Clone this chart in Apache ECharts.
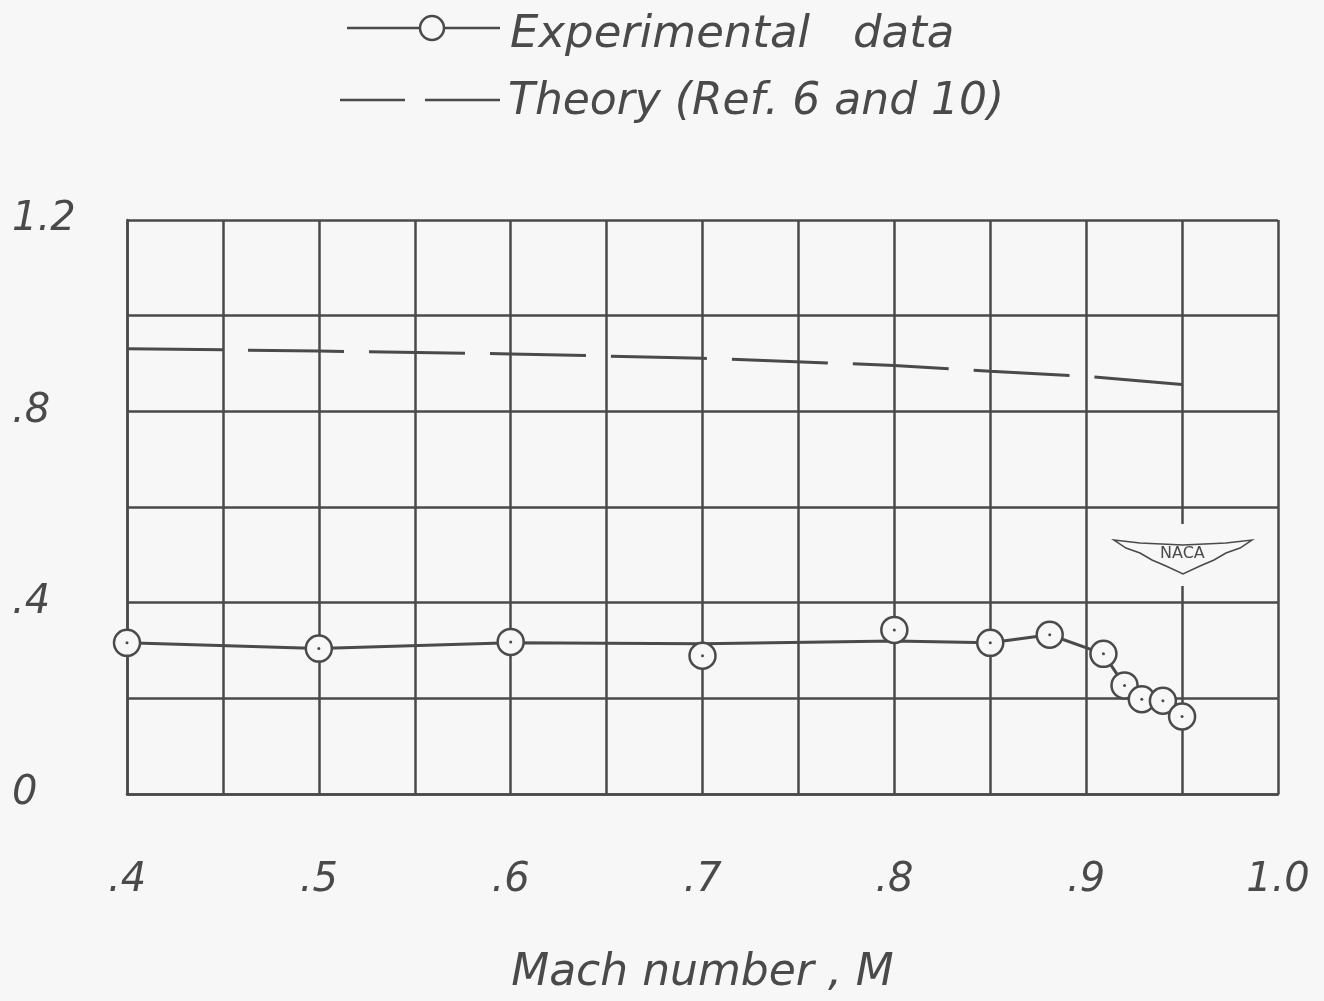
<!DOCTYPE html>
<html><head><meta charset="utf-8">
<script src="https://cdn.jsdelivr.net/npm/echarts@6/dist/echarts.min.js"></script>
<style>html,body{margin:0;padding:0;background:#f7f7f7}#c{width:1324px;height:1001px}</style>
</head><body><div id="c"></div>
<script>
// Experimental points (Mach number, value)
const machExp = [0.4, 0.5, 0.6, 0.7, 0.8, 0.85, 0.881, 0.909, 0.92, 0.929, 0.94, 0.95];
const valExp  = [0.316, 0.304, 0.318, 0.289, 0.343, 0.316, 0.333, 0.293, 0.227, 0.198, 0.195, 0.162];
// Faired curve through experimental data
const machFair = [0.4, 0.5, 0.6, 0.7, 0.8, 0.85, 0.881, 0.909, 0.92, 0.929, 0.94, 0.95];
const valFair  = [0.316, 0.304, 0.316, 0.314, 0.320, 0.316, 0.333, 0.293, 0.227, 0.198, 0.195, 0.162];
// Theory (Ref. 6 and 10)
const machTheory = [0.4, 0.5, 0.6, 0.7, 0.8, 0.85, 0.9, 0.95];
const valTheory  = [0.931, 0.926, 0.920, 0.911, 0.896, 0.884, 0.873, 0.856];
// Tick labels
const xTickLabels = {'0.4':'.4','0.5':'.5','0.6':'.6','0.7':'.7','0.8':'.8','0.9':'.9','1.0':'1.0'};
const yTickLabels = {'0.0':'0','0.4':'.4','0.8':'.8','1.2':'1.2'};
const legendNames = ['Experimental   data', 'Theory (Ref. 6 and 10)'];
const xName = 'Mach number , M';

const ink = '#4a4a4a';
const bg = '#f7f7f7';
const font = 'DejaVu Sans';
const zip = (a, b) => a.map((v, i) => [v, b[i]]);

const chart = echarts.init(document.getElementById('c'));
chart.setOption({
  backgroundColor: bg,
  animation: false,
  grid: {left: 127, right: 46, top: 220, bottom: 204, show: false},
  xAxis: {
    type: 'value', min: 0.4, max: 1.0, interval: 0.05,
    name: xName, nameLocation: 'middle', nameGap: 158,
    nameTextStyle: {fontFamily: font, fontStyle: 'italic', fontSize: 44, color: ink},
    axisLine: {show: true, lineStyle: {color: ink, width: 2.5}},
    axisTick: {show: false},
    splitLine: {show: true, lineStyle: {color: ink, width: 2.5}},
    axisLabel: {
      margin: 67, fontFamily: font, fontStyle: 'italic', fontSize: 40, color: ink,
      showMinLabel: true, showMaxLabel: true,
      formatter: v => xTickLabels[v.toFixed(1)] !== undefined && Math.abs(v*10 - Math.round(v*10)) < 1e-6 ? xTickLabels[v.toFixed(1)] : ''
    }
  },
  yAxis: {
    type: 'value', min: 0, max: 1.2, interval: 0.2,
    axisLine: {show: true, lineStyle: {color: ink, width: 2.5}},
    axisTick: {show: false},
    splitLine: {show: true, lineStyle: {color: ink, width: 2.5}},
    axisLabel: {
      margin: 115, align: 'left', fontFamily: font, fontStyle: 'italic', fontSize: 40, color: ink,
      formatter: v => yTickLabels[v.toFixed(1)] || ''
    }
  },
  series: [
    {
      type: 'line', data: zip(machTheory, valTheory), symbol: 'none', z: 3,
      lineStyle: {color: ink, width: 3, type: [96, 25]}
    },
    {
      type: 'line', data: zip(machFair, valFair), symbol: 'none', z: 3,
      lineStyle: {color: ink, width: 3}
    },
    {
      type: 'scatter', data: zip(machExp, valExp), symbol: 'circle', symbolSize: 26, z: 4,
      itemStyle: {color: bg, borderColor: ink, borderWidth: 2.5, opacity: 1}
    },
    {
      type: 'scatter', data: zip(machExp, valExp), symbol: 'circle', symbolSize: 3, z: 5,
      itemStyle: {color: ink, opacity: 1}
    }
  ],
  graphic: [
    // legend
    {type: 'line', shape: {x1: 347, y1: 28, x2: 500, y2: 28}, style: {stroke: ink, lineWidth: 2.5}, z: 10},
    {type: 'circle', shape: {cx: 432, cy: 28, r: 12}, style: {fill: bg, stroke: ink, lineWidth: 2.5}, z: 11},
    {type: 'text', left: 510, top: 13, style: {text: legendNames[0], font: 'italic 45px "DejaVu Sans"', fill: ink}, z: 10},
    {type: 'line', shape: {x1: 340, y1: 100, x2: 405, y2: 100}, style: {stroke: ink, lineWidth: 2.5}, z: 10},
    {type: 'line', shape: {x1: 425, y1: 100, x2: 500, y2: 100}, style: {stroke: ink, lineWidth: 2.5}, z: 10},
    {type: 'text', left: 508, top: 81, style: {text: legendNames[1], font: 'italic 44px "DejaVu Sans"', fill: ink}, z: 10},
    // NACA emblem
    {type: 'rect', shape: {x: 1110, y: 524, width: 146, height: 62}, style: {fill: bg}, z: 20},
    {type: 'polygon', shape: {points: [[1114,540],[1140,543],[1183,545],[1226,543],[1252,540],[1240,548],[1226,553],[1214,560],[1200,566],[1183,574],[1166,566],[1152,560],[1140,553],[1126,548]]},
      style: {fill: bg, stroke: ink, lineWidth: 1.5}, z: 21},
    {type: 'text', left: 1160, top: 546, style: {text: 'NACA', font: '16px "DejaVu Sans"', fill: ink}, z: 22}
  ]
});
</script></body></html>
